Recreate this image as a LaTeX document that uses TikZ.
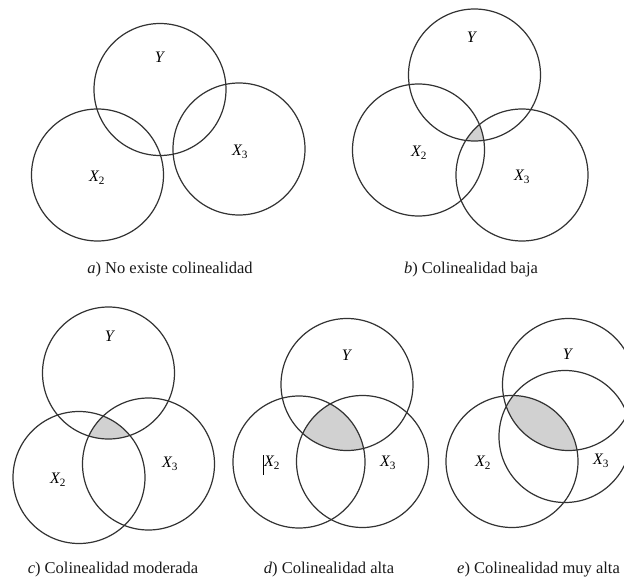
\documentclass[tikz,border=0pt]{standalone}
\usepackage{fontspec}
\setmainfont{Liberation Serif}
\newcommand{\varX}[1]{\textit{X}\kern-0.6pt\textsubscript{#1}}
\begin{document}
\begin{tikzpicture}[x=1pt,y=-1pt,
  conj/.style={draw=black!80, line width=1.2pt},
  sombra/.style={fill=black!18},
  lbl/.style={font=\fontsize{16}{18}\selectfont, inner sep=0pt},
  pie/.style={font=\fontsize{16.5}{19}\selectfont, text=black!90, inner sep=0pt}]
\useasboundingbox (0,0) rectangle (624,578);

% centros de los conjuntos
\coordinate (aY) at (160,89.5);
\coordinate (aX2) at (97.5,175);
\coordinate (aX3) at (239,149);
\coordinate (bY) at (474.5,75);
\coordinate (bX2) at (418.5,150);
\coordinate (bX3) at (522,175);
\coordinate (cY) at (108.5,373);
\coordinate (cX2) at (79,477.5);
\coordinate (cX3) at (148.5,464);
\coordinate (dY) at (347,384.5);
\coordinate (dX2) at (299,462);
\coordinate (dX3) at (362.5,461.5);
\coordinate (eY) at (568.5,384.5);
\coordinate (eX2) at (512,461.5);
\coordinate (eX3) at (565,436.5);

% zonas comunes
\begin{scope}
\clip (bY) circle (66pt);
\clip (bX2) circle (66pt);
\fill[sombra] (bX3) circle (66pt);
\end{scope}
\begin{scope}
\clip (cY) circle (66pt);
\clip (cX2) circle (66pt);
\fill[sombra] (cX3) circle (66pt);
\end{scope}
\begin{scope}
\clip (dY) circle (66pt);
\clip (dX2) circle (66pt);
\fill[sombra] (dX3) circle (66pt);
\end{scope}
\begin{scope}
\clip (eY) circle (66pt);
\clip (eX2) circle (66pt);
\fill[sombra] (eX3) circle (66pt);
\end{scope}

% a)
\draw[conj] (aY) circle (66pt);
\draw[conj] (aX2) circle (66pt);
\draw[conj] (aX3) circle (66pt);
\node[lbl] (aYl) at (160,57) {\textit{Y}};
\node[lbl] (aX2l) at (97,178) {\varX{2}};
\node[lbl] (aX3l) at (240,152) {\varX{3}};
\node[pie] (apie) at (170,270) {\textit{a}) No existe colinealidad};

% b)
\draw[conj] (bY) circle (66pt);
\draw[conj] (bX2) circle (66pt);
\draw[conj] (bX3) circle (66pt);
\node[lbl] (bYl) at (472,37) {\textit{Y}};
\node[lbl] (bX2l) at (419,153) {\varX{2}};
\node[lbl] (bX3l) at (522,177) {\varX{3}};
\node[pie] (bpie) at (471,270) {\textit{b}) Colinealidad baja};

% c)
\draw[conj] (cY) circle (66pt);
\draw[conj] (cX2) circle (66pt);
\draw[conj] (cX3) circle (66pt);
\node[lbl] (cYl) at (110,336) {\textit{Y}};
\node[lbl] (cX2l) at (58,480) {\varX{2}};
\node[lbl] (cX3l) at (170,464) {\varX{3}};
\node[pie] (cpie) at (113,570) {\textit{c}) Colinealidad moderada};

% d)
\draw[conj] (dY) circle (66pt);
\draw[conj] (dX2) circle (66pt);
\draw[conj] (dX3) circle (66pt);
\node[lbl] (dYl) at (347,355) {\textit{Y}};
\node[lbl] (dX2l) at (272,463) {\varX{2}};
\node[lbl] (dX3l) at (388,463) {\varX{3}};
\draw[line width=1pt] (263,455) -- (263,475);
\node[pie] (dpie) at (329,570) {\textit{d}) Colinealidad alta};

% e)
\draw[conj] (eY) circle (66pt);
\draw[conj] (eX2) circle (66pt);
\draw[conj] (eX3) circle (66pt);
\node[lbl] (eYl) at (568,354) {\textit{Y}};
\node[lbl] (eX2l) at (483,463) {\varX{2}};
\node[lbl] (eX3l) at (601,461) {\varX{3}};
\node[pie, anchor=west] (epie) at (457,570) {\textit{e}) Colinealidad muy alta};
\end{tikzpicture}
\end{document}
